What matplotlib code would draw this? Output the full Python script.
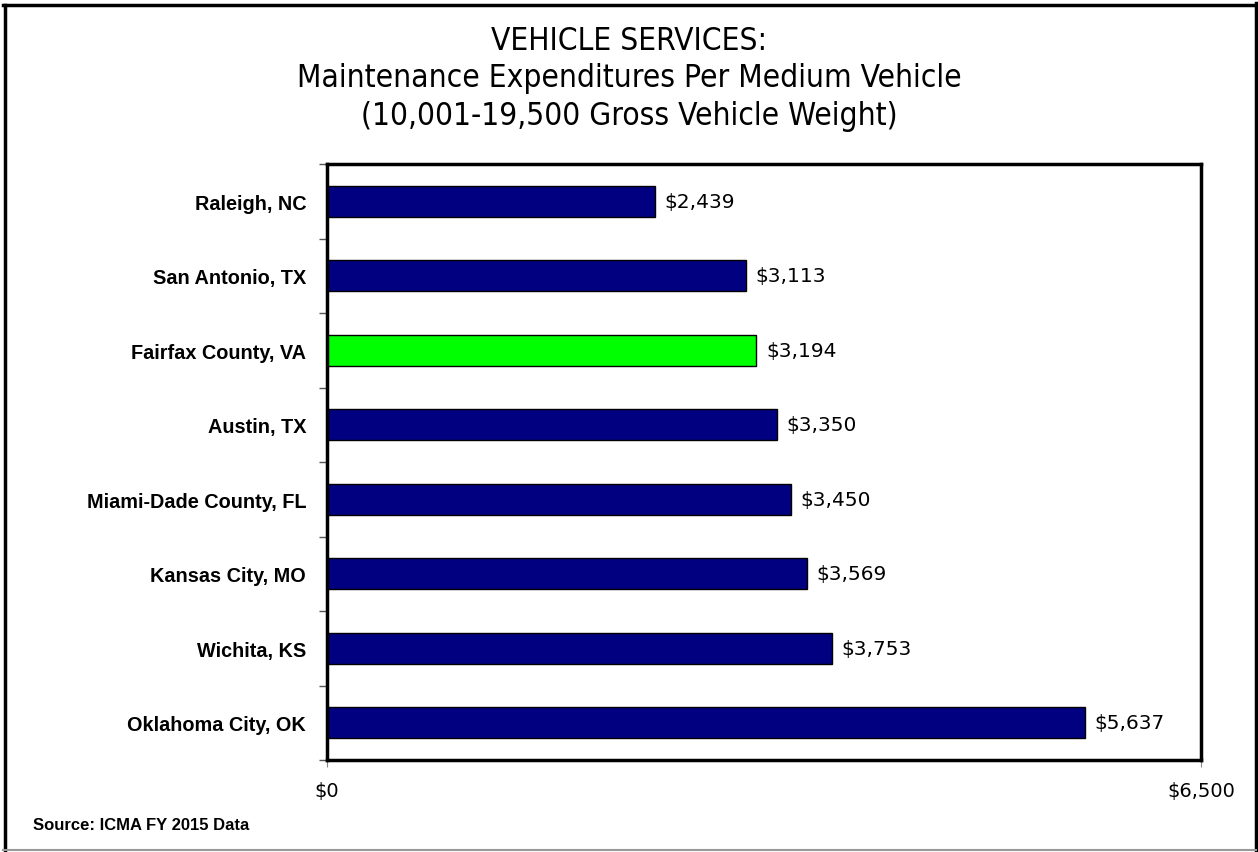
import matplotlib
matplotlib.use("Agg")
import matplotlib.pyplot as plt
from matplotlib.lines import Line2D

categories = ["Raleigh, NC", "San Antonio, TX", "Fairfax County, VA", "Austin, TX",
              "Miami-Dade County, FL", "Kansas City, MO", "Wichita, KS", "Oklahoma City, OK"]
values = [2439, 3113, 3194, 3350, 3450, 3569, 3753, 5637]
highlight = "Fairfax County, VA"
x_ticks = [0, 6500]
x_tick_labels = ["$0", "$6,500"]

fig = plt.figure(figsize=(12.58, 8.53), dpi=100)
ax = fig.add_axes([327/1258, 1-761/853, (1201-327)/1258, (761-165)/853])

y = list(range(len(categories)))
colors = ["#00FF00" if c == highlight else "#000080" for c in categories]
ax.barh(y, values, height=0.42, color=colors, edgecolor="black", linewidth=1.0)
ax.set_ylim(len(categories) - 0.5, -0.5)
ax.set_xlim(0, 6500)
ax.set_yticks(y)
ax.set_yticklabels(categories, fontsize=14.3, fontweight="bold", family="Liberation Sans")
ax.set_yticks([i - 0.5 for i in range(len(categories) + 1)], minor=True)
ax.tick_params(axis="y", which="major", length=0, pad=15)
ax.tick_params(axis="y", which="minor", length=6, color="#555555", width=1)
ax.set_xticks(x_ticks)
ax.set_xticklabels(x_tick_labels, fontsize=14, family="DejaVu Sans")
ax.tick_params(axis="x", length=5, color="#888888", pad=10)
for s in ax.spines.values():
    s.set_linewidth(2.5)
    s.set_color("black")

for yi, v in zip(y, values):
    ax.text(v + 70, yi, f"${v:,}", va="center", ha="left", fontsize=14.5, family="DejaVu Sans")

title_lines = ["VEHICLE SERVICES:", "Maintenance Expenditures Per Medium Vehicle",
               "(10,001-19,500 Gross Vehicle Weight)"]
for i, line in enumerate(title_lines):
    fig.text(0.5, 1-(41 + 38*i)/853, line, ha="center", va="center", fontsize=22.7,
             family="DejaVu Sans", fontstretch="condensed")
fig.text(33/1258, 1-826/853, "Source: ICMA FY 2015 Data", ha="left", va="center", fontsize=12,
         fontweight="bold", family="Liberation Sans")

W, H = 1258, 853
fig.add_artist(Line2D([4.5/W, 4.5/W], [1-5.5/H, 1-851/H], transform=fig.transFigure, color="black", lw=2.5))
fig.add_artist(Line2D([3/W, 1256/W], [1-5.5/H, 1-5.5/H], transform=fig.transFigure, color="black", lw=2.5))
fig.add_artist(Line2D([1255.5/W, 1255.5/W], [1-4/H, 1-851/H], transform=fig.transFigure, color="black", lw=2.5))
fig.add_artist(Line2D([3/W, 1256/W], [1-851/H, 1-851/H], transform=fig.transFigure, color="#999999", lw=1.5))

fig.savefig("out.png", dpi=100)
